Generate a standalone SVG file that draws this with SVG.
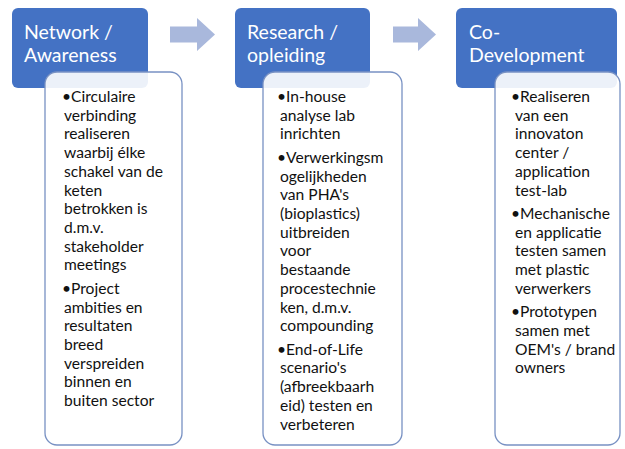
<svg xmlns="http://www.w3.org/2000/svg" width="625" height="449" viewBox="0 0 625 449">
<style>
.hdr{fill:#4472c4;}
.ht{fill:#ffffff;font-family:Lato,"Liberation Sans",sans-serif;font-size:19.5px;}
.box{fill:#ffffff;fill-opacity:0.9;stroke:#7891c3;stroke-width:1.3;}
.bt{fill:#111111;font-family:Lato,"Liberation Sans",sans-serif;font-size:15.6px;}
.arr{fill:#a9b8dc;}
</style>
<rect width="625" height="449" fill="#ffffff"/>
<g id="connectors">
<path class="arr" d="M170,26.5 H197 V18 L215,34.5 L197,51 V42.5 H170 Z"/>
<path class="arr" d="M393,26.5 H418 V18 L436,34.5 L418,51 V42.5 H393 Z"/>
</g>
<g id="network-header">
<rect class="hdr" x="12" y="8" width="136" height="80" rx="6"/>
<text class="ht" x="24" y="39">Network /</text>
<text class="ht" x="24" y="62">Awareness</text>
</g>
<g id="network-body">
<rect class="box" x="45" y="72" width="137" height="373" rx="12"/>
<text class="bt">
<tspan x="62" y="102">•Circulaire</tspan>
<tspan x="64" dy="18.7">verbinding</tspan>
<tspan x="64" dy="18.7">realiseren</tspan>
<tspan x="64" dy="18.7">waarbij élke</tspan>
<tspan x="64" dy="18.7">schakel van de</tspan>
<tspan x="64" dy="18.7">keten</tspan>
<tspan x="64" dy="18.7">betrokken is</tspan>
<tspan x="64" dy="18.7">d.m.v.</tspan>
<tspan x="64" dy="18.7">stakeholder</tspan>
<tspan x="64" dy="18.7">meetings</tspan>
<tspan x="62" dy="23.5">•Project</tspan>
<tspan x="64" dy="18.7">ambities en</tspan>
<tspan x="64" dy="18.7">resultaten</tspan>
<tspan x="64" dy="18.7">breed</tspan>
<tspan x="64" dy="18.7">verspreiden</tspan>
<tspan x="64" dy="18.7">binnen en</tspan>
<tspan x="64" dy="18.7">buiten sector</tspan>
</text>
</g>
<g id="research-header">
<rect class="hdr" x="235" y="8" width="135" height="80" rx="6"/>
<text class="ht" x="247" y="39">Research /</text>
<text class="ht" x="247" y="62">opleiding</text>
</g>
<g id="research-body">
<rect class="box" x="263" y="72" width="139" height="373" rx="12"/>
<text class="bt">
<tspan x="277" y="102">•In-house</tspan>
<tspan x="280" dy="18.7">analyse lab</tspan>
<tspan x="280" dy="18.7">inrichten</tspan>
<tspan x="277" dy="23.5">•Verwerkingsm</tspan>
<tspan x="280" dy="18.7">ogelijkheden</tspan>
<tspan x="280" dy="18.7">van PHA's</tspan>
<tspan x="280" dy="18.7">(bioplastics)</tspan>
<tspan x="280" dy="18.7">uitbreiden</tspan>
<tspan x="280" dy="18.7">voor</tspan>
<tspan x="280" dy="18.7">bestaande</tspan>
<tspan x="280" dy="18.7">procestechnie</tspan>
<tspan x="280" dy="18.7">ken, d.m.v.</tspan>
<tspan x="280" dy="18.7">compounding</tspan>
<tspan x="277" dy="23.5">•End-of-Life</tspan>
<tspan x="280" dy="18.7">scenario's</tspan>
<tspan x="280" dy="18.7">(afbreekbaarh</tspan>
<tspan x="280" dy="18.7">eid) testen en</tspan>
<tspan x="280" dy="18.7">verbeteren</tspan>
</text>
</g>
<g id="codev-header">
<rect class="hdr" x="456" y="8" width="161" height="80" rx="6"/>
<text class="ht" x="469" y="39">Co-</text>
<text class="ht" x="469" y="62">Development</text>
</g>
<g id="codev-body">
<rect class="box" x="495" y="72" width="125" height="373" rx="12"/>
<text class="bt">
<tspan x="511" y="102">•Realiseren</tspan>
<tspan x="515" dy="18.7">van een</tspan>
<tspan x="515" dy="18.7">innovaton</tspan>
<tspan x="515" dy="18.7">center /</tspan>
<tspan x="515" dy="18.7">application</tspan>
<tspan x="515" dy="18.7">test-lab</tspan>
<tspan x="511" dy="23.5">•Mechanische</tspan>
<tspan x="515" dy="18.7">en applicatie</tspan>
<tspan x="515" dy="18.7">testen samen</tspan>
<tspan x="515" dy="18.7">met plastic</tspan>
<tspan x="515" dy="18.7">verwerkers</tspan>
<tspan x="511" dy="23.5">•Prototypen</tspan>
<tspan x="515" dy="18.7">samen met</tspan>
<tspan x="515" dy="18.7">OEM's / brand</tspan>
<tspan x="515" dy="18.7">owners</tspan>
</text>
</g>
</svg>
